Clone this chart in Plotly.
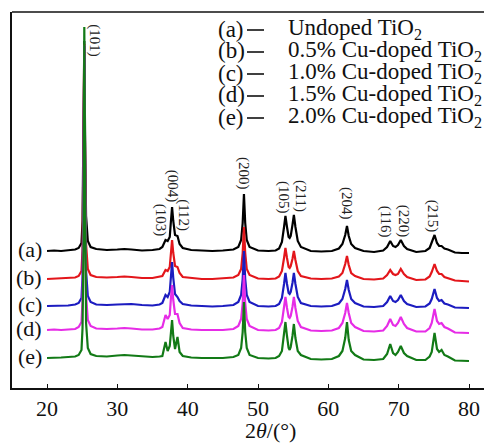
import plotly.graph_objects as go

# ---------------- data ----------------
two_theta = [20.0, 21.0, 22.0, 23.0, 24.0,
             24.5, 24.9, 25.05, 25.18, 25.3, 25.42, 25.55, 25.8, 26.2,
             27.0, 28.5, 30.0, 31.0, 32.0, 33.5, 35.0, 36.0,
             36.4, 36.85, 37.15, 37.45, 37.6, 37.78, 37.95, 38.2, 38.55, 38.85, 39.3,
             40.5, 42.0, 43.5, 45.0, 46.5,
             47.2, 47.6, 47.82, 48.0, 48.18, 48.4, 48.8,
             50.0, 51.5, 52.5, 53.0,
             53.4, 53.7, 53.9, 54.12, 54.35, 54.5, 54.65, 54.9, 55.1, 55.32, 55.65, 56.1,
             57.5, 59.0, 60.5, 61.5,
             62.0, 62.4, 62.65, 62.9, 63.25, 63.8,
             65.0, 66.5, 67.8,
             68.35, 68.8, 69.2, 69.55, 69.9, 70.3, 70.75, 71.2,
             72.5, 73.8, 74.4,
             74.7, 75.1, 75.45, 75.75, 76.1, 76.5, 77.0,
             78.0, 79.0, 80.0]

intensity_a = [0, 0.5, 0, 1, 1.5,
               3, 8, 30, 110, 210, 110, 35, 10, 4,
               2, 1, 1.5, 2, 1.5, 0.5, 1, 2,
               4, 11, 10, 14, 28, 44, 30, 16, 15, 7, 3,
               1, 0.5, 0, 0.5, 1.5,
               4, 11, 28, 57, 28, 11, 4,
               0.5, 0, 0.5, 2.5,
               9, 24, 35, 24, 14, 13, 15, 26, 36, 24, 10, 4,
               0, -0.5, 0, 2.5,
               7, 16, 25, 15, 7, 3,
               0, -1, 0.5,
               4, 10, 5, 4, 6, 11, 5, 2,
               -1, 0, 3,
               8, 16, 8, 5, 5, 2.5, 1.5,
               -1.5, -2, -2]

intensity_b = [0, 0.5, 0.5, 1, 1.5,
               3, 8, 30, 110, 235, 110, 35, 10, 4,
               2, 1.5, 2, 2.5, 2, 1, 1, 2,
               3, 9, 8, 12, 24, 39, 26, 13, 12, 6, 2,
               1, 0, 0, 0.5, 1.5,
               4, 10, 26, 52, 26, 10, 4,
               0.5, 0, 0.5, 2.5,
               8, 21, 31, 21, 12, 11, 13, 20, 28, 19, 8, 3,
               0.5, 0, 0.5, 2.5,
               6, 15, 23, 14, 6, 3,
               0, -0.5, 0.5,
               4, 9, 5, 4, 5, 10, 5, 2,
               -1, -0.5, 2.5,
               7, 15, 8, 5, 5, 2, 1,
               -1.5, -2, -2.5]

intensity_c = [0, 0, 0.5, 0.5, 1.5,
               3, 8, 30, 110, 260, 110, 35, 10, 4,
               1.5, 1, 1.5, 2, 2, 1, 0.5, 1.5,
               3, 11, 9, 14, 28, 44, 28, 12, 9, 5, 2,
               0.5, 0, -0.5, 0, 1,
               4, 11, 27, 55, 27, 11, 4,
               0, -0.5, 0, 2,
               8, 22, 33, 22, 13, 12, 14, 23, 33, 22, 9, 3,
               0, -0.5, 0, 2.5,
               7, 17, 26, 16, 7, 3,
               -0.5, -1, 0,
               4, 10, 5, 4, 6, 11, 5, 2,
               -1, -0.5, 2.5,
               7, 17, 8, 5, 6, 2.5, 1.5,
               -1.5, -1.5, -2]

intensity_d = [0, 0.5, 0, 0.5, 1,
               3, 8, 30, 110, 285, 110, 35, 10, 4,
               1.5, 1, 1.5, 2, 1.5, 0.5, 0.5, 1.5,
               3, 15, 11, 15, 30, 45, 30, 16, 16, 7, 2,
               0.5, 0, 0, 0, 1,
               4, 11, 27, 55, 27, 11, 4,
               0, -0.5, 0, 2,
               8, 22, 33, 22, 13, 12, 14, 23, 33, 22, 9, 3,
               -0.5, -1, -0.5, 2,
               7, 17, 27, 17, 7, 3,
               -1, -1.5, -0.5,
               4, 11, 5, 4, 7, 13, 6, 2,
               -1.5, -1.5, 2,
               7, 21, 9, 6, 7, 3, 1.5,
               -2.5, -3, -3]

intensity_e = [0, 0, 0.5, 1, 1.5,
               3, 8, 30, 110, 331, 110, 35, 10, 4,
               2, 1.5, 2.5, 3, 2.5, 1.5, 1, 1.5,
               2, 16, 7, 12, 25, 38, 22, 9, 21, 6, 2,
               0.5, 0, 0, 0, 1,
               3, 10, 26, 56, 26, 10, 3,
               0, -0.5, 0, 2,
               7, 22, 36, 22, 10, 8, 11, 22, 34, 20, 7, 3,
               -1, -1.5, -1, 2,
               7, 20, 36, 18, 7, 3,
               -1.5, -2, -1,
               4, 14, 5, 3, 6, 12, 5, 2,
               -2, -2, 1.5,
               6, 25, 9, 6, 8, 3, 1.5,
               -2.5, -3, -3]

series_tags = ["(a)", "(b)", "(c)", "(d)", "(e)"]
series_names = ["Undoped TiO<sub>2</sub>",
                "0.5% Cu-doped TiO<sub>2</sub>",
                "1.0% Cu-doped TiO<sub>2</sub>",
                "1.5% Cu-doped TiO<sub>2</sub>",
                "2.0% Cu-doped TiO<sub>2</sub>"]
stack_offset = [137, 109, 82, 58, 30]

peak_labels = ["(101)", "(103)", "(004)", "(112)", "(200)", "(105)",
               "(211)", "(204)", "(116)", "(220)", "(215)"]

x_ticks = [20, 30, 40, 50, 60, 70, 80]

# ---------------- style ----------------
colors = ["#000000", "#e3161b", "#1c1cc0", "#e62ce6", "#127a16"]
FONT = "Liberation Serif, Times New Roman, serif"
PW, PH = 480, 376  # plot area in px

series = [intensity_a, intensity_b, intensity_c, intensity_d, intensity_e]
for s in series:
    assert len(s) == len(two_theta)

fig = go.Figure()
for tag, ys, off, col in zip(series_tags, series, stack_offset, colors):
    fig.add_trace(go.Scatter(
        x=two_theta, y=[v + off for v in ys], mode="lines",
        line=dict(color=col, width=2.2), name=tag, showlegend=False,
        hoverinfo="skip"))

# series tags at the left of each pattern
for tag, off in zip(series_tags, stack_offset):
    fig.add_annotation(x=19.6, y=off + 2, xref="x", yref="y", text=tag,
                       showarrow=False, xanchor="right", yanchor="middle",
                       font=dict(family=FONT, size=22, color="#111"))

# peak index labels (rotated)
label_pos = [(26.8, 347), (36.25, 168), (37.95, 202), (39.45, 173), (48.0, 214),
             (53.7, 191), (56.1, 192), (62.65, 184), (68.25, 166), (70.8, 167), (74.9, 172)]
for lab, (lx, ly) in zip(peak_labels, label_pos):
    fig.add_annotation(x=lx, y=ly, xref="x", yref="y", text=lab, textangle=90,
                       showarrow=False, xanchor="center", yanchor="middle",
                       font=dict(family=FONT, size=15, color="#222"))

# legend as text lines with a short dash
leg_y = [29, 51, 73, 95, 117]
for tag, name, py in zip(series_tags, series_names, leg_y):
    yp = 1 - (py - 12) / PH
    fig.add_annotation(x=(216 - 12) / PW, y=yp, xref="paper", yref="paper",
                       text=tag, showarrow=False, xanchor="left",
                       yanchor="middle", font=dict(family=FONT, size=23, color="#111"))
    fig.add_shape(type="line", xref="paper", yref="paper",
                  x0=(247 - 12) / PW, x1=(264 - 12) / PW, y0=yp - 1 / PH, y1=yp - 1 / PH,
                  line=dict(color="#111", width=1.6))
    fig.add_annotation(x=(286 - 12) / PW, y=yp, xref="paper", yref="paper",
                       text=name, showarrow=False, xanchor="left",
                       yanchor="middle", font=dict(family=FONT, size=23, color="#111"))

# axis title
fig.add_annotation(x=(270 - 12) / PW, y=-(430 - 388) / PH, xref="paper", yref="paper",
                   text="2<i>θ</i>/(°)", showarrow=False, xanchor="center",
                   yanchor="middle", font=dict(family=FONT, size=22, color="#111"))

# top border
fig.add_shape(type="line", xref="paper", yref="paper", x0=0, x1=1, y0=1, y1=1,
              line=dict(color="#111", width=1.5))

fig.update_xaxes(range=[15.02, 83.27], tickvals=x_ticks, ticks="inside", ticklen=4,
                 tickwidth=1.2, tickcolor="#111", showline=True, linecolor="#111",
                 linewidth=1.5, showgrid=False, zeroline=False,
                 tickfont=dict(family=FONT, size=22, color="#111"))
fig.update_yaxes(range=[0, 376], showticklabels=False, ticks="", showline=True,
                 linecolor="#111", linewidth=1.5, showgrid=False, zeroline=False)

# the page adds an 8 px body margin, so the figure is 8 px smaller and shifted
fig.update_layout(width=484, height=435, margin=dict(l=4, r=0, t=4, b=55),
                  plot_bgcolor="white", paper_bgcolor="white")

fig.write_html("out.html")
